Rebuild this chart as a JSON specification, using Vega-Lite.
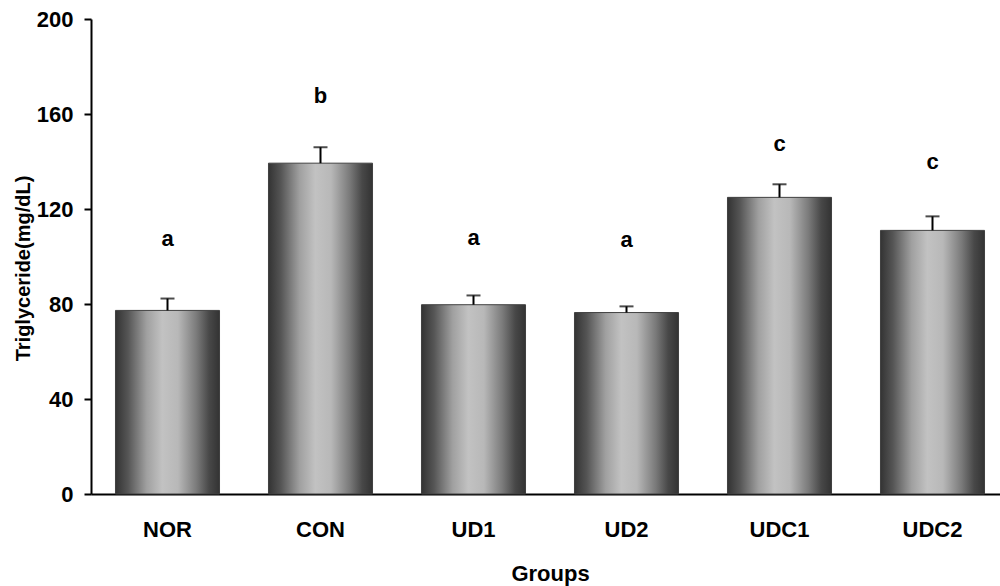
{
  "$schema": "https://vega.github.io/schema/vega-lite/v6.json",
  "autosize": {"type": "none"},
  "padding": {"left": 91, "top": 19, "right": 0, "bottom": 92},
  "width": 918,
  "height": 475,
  "background": "white",
  "config": {
    "view": {"stroke": null},
    "font": "Liberation Sans",
    "axis": {"grid": false, "domainColor": "black", "domainWidth": 2, "tickColor": "black", "tickWidth": 2, "labelFont": "Liberation Sans", "labelFontWeight": "bold", "labelColor": "black", "titleFont": "Liberation Sans", "titleFontWeight": "bold", "titleColor": "black"}
  },
  "data": {
    "values": [
      {"group": "NOR", "mean": 77.3, "err": 82.3, "letter": "a", "ly": 107.2},
      {"group": "CON", "mean": 139.3, "err": 146.0, "letter": "b", "ly": 167.5},
      {"group": "UD1", "mean": 79.7, "err": 83.6, "letter": "a", "ly": 108.0},
      {"group": "UD2", "mean": 76.4, "err": 79.0, "letter": "a", "ly": 106.8},
      {"group": "UDC1", "mean": 124.9, "err": 130.4, "letter": "c", "ly": 147.3},
      {"group": "UDC2", "mean": 111.0, "err": 116.9, "letter": "c", "ly": 139.7}
    ]
  },
  "encoding": {
    "x": {
      "field": "group", "type": "nominal", "sort": null,
      "scale": {"paddingInner": 0.32, "paddingOuter": 0.16},
      "axis": {"title": "Groups", "labelAngle": 0, "labelFontSize": 22, "labelPadding": 25, "ticks": false, "titleFontSize": 22, "titlePadding": 23}
    }
  },
  "layer": [
    {
      "mark": {"type": "bar", "stroke": "#404040", "strokeWidth": 1,
        "color": {"gradient": "linear", "x1": 0, "y1": 0, "x2": 1, "y2": 0,
          "stops": [
            {"offset": 0, "color": "#333333"},
            {"offset": 0.12, "color": "#555555"},
            {"offset": 0.3, "color": "#a0a0a0"},
            {"offset": 0.45, "color": "#c2c2c2"},
            {"offset": 0.6, "color": "#b8b8b8"},
            {"offset": 0.78, "color": "#7a7a7a"},
            {"offset": 0.9, "color": "#484848"},
            {"offset": 1, "color": "#333333"}
          ]}},
      "encoding": {
        "y": {
          "field": "mean", "type": "quantitative",
          "scale": {"domain": [0, 200], "nice": false},
          "axis": {"title": "Triglyceride(mg/dL)", "values": [0, 40, 80, 120, 160, 200], "labelFontSize": 22, "labelPadding": 11, "tickSize": 7, "titleFontSize": 20, "titlePadding": 3, "titleY": 249}
        }
      }
    },
    {
      "mark": {"type": "rule", "color": "black", "strokeWidth": 2},
      "encoding": {
        "y": {"field": "mean", "type": "quantitative"},
        "y2": {"field": "err"}
      }
    },
    {
      "mark": {"type": "tick", "color": "black", "thickness": 2, "size": 14, "orient": "horizontal"},
      "encoding": {
        "y": {"field": "err", "type": "quantitative"}
      }
    },
    {
      "mark": {"type": "text", "fontSize": 22, "fontWeight": "bold", "color": "black", "baseline": "middle"},
      "encoding": {
        "y": {"field": "ly", "type": "quantitative"},
        "text": {"field": "letter"}
      }
    }
  ]
}
